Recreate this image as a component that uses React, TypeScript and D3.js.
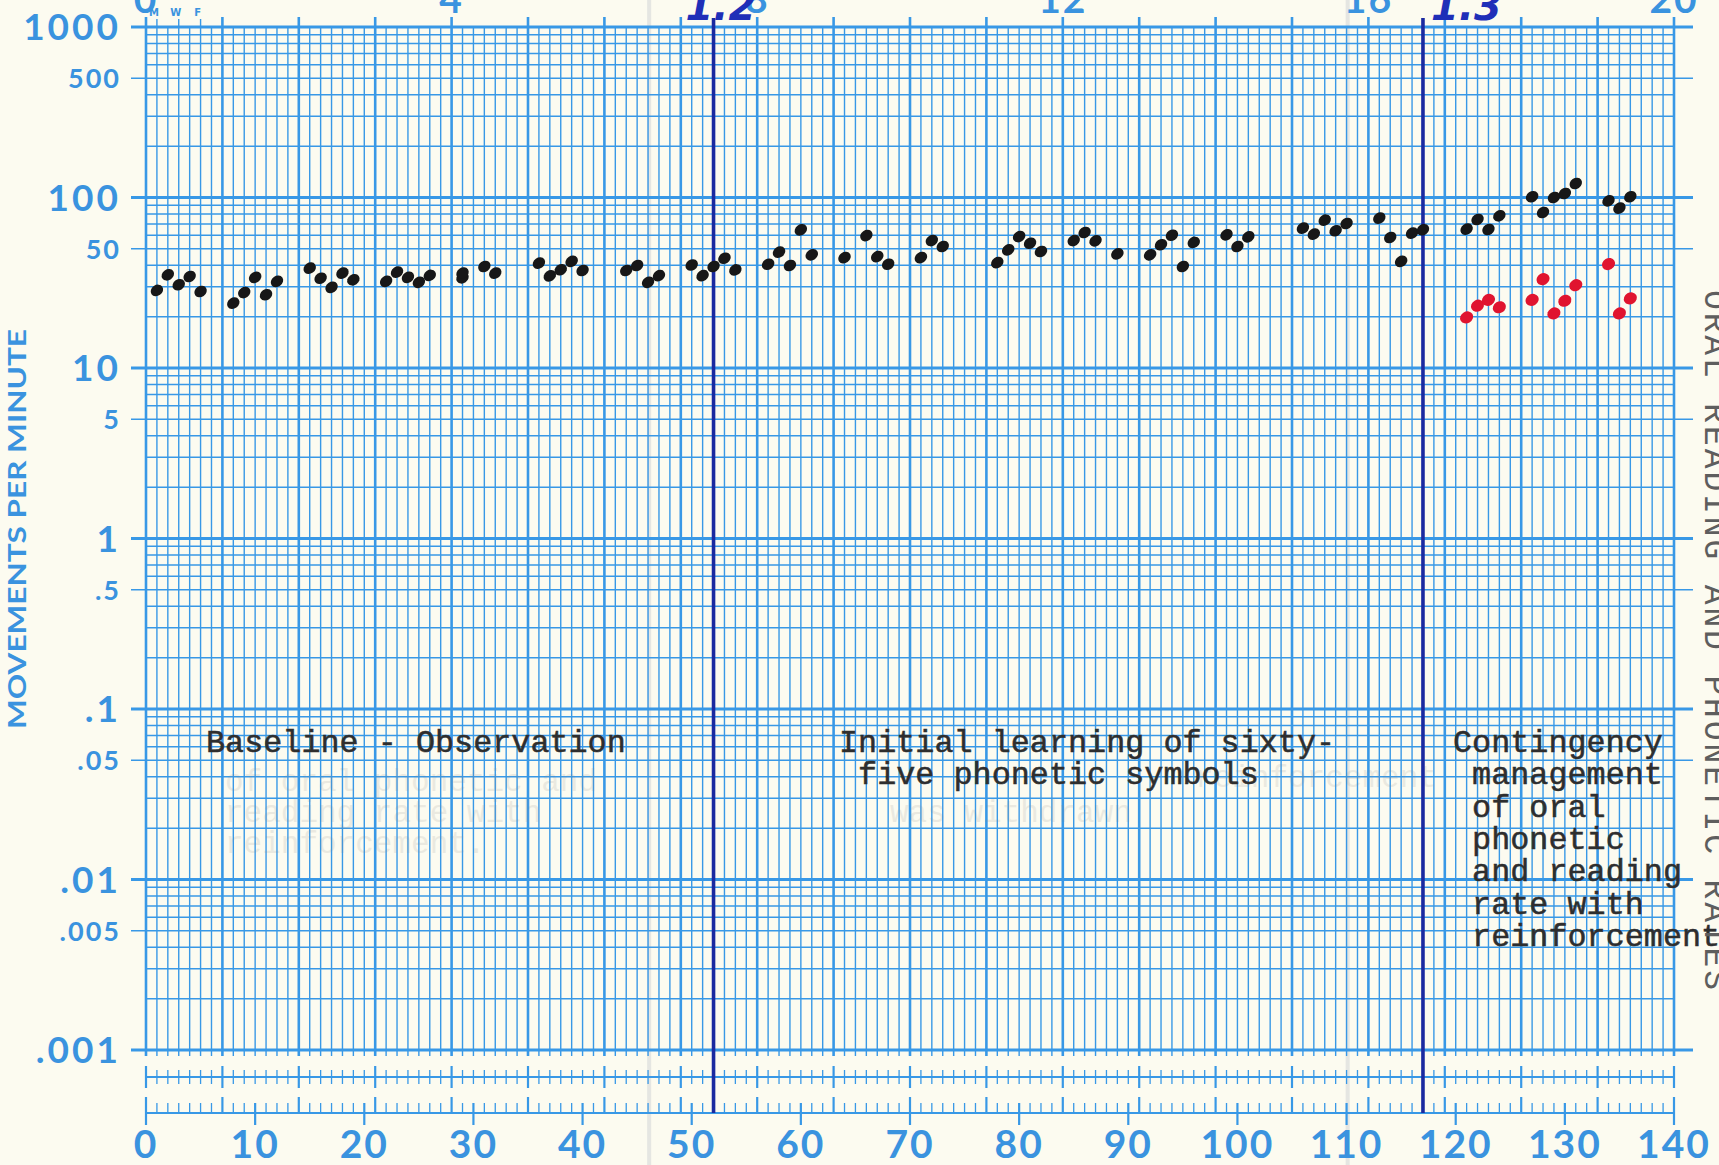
import React, { useRef, useEffect } from "react";
import * as d3 from "d3";

// black dots: oral phonetic rate (day, movements per minute)
const blackDays = [
  1, 2, 3, 4, 5, 8, 9, 10, 11, 12, 15, 16, 17, 18, 19, 22, 23, 24, 25, 26,
  29, 29, 31, 32, 36, 37, 38, 39, 40, 44, 45, 46, 47, 50, 51, 52, 53, 54,
  57, 58, 59, 60, 61, 64, 66, 67, 68, 71, 72, 73, 78, 79, 80, 81, 82,
  85, 86, 87, 89, 92, 93, 94, 95, 96, 99, 100, 101, 106, 107, 108, 109, 110,
  113, 114, 115, 116, 117, 121, 122, 123, 124, 127, 128, 129, 130, 131,
  134, 135, 136,
];
const blackRates = [
  28.5, 35.2, 30.8, 34.4, 28.1, 24.0, 27.7, 34.0, 26.9, 32.2, 38.5, 33.6, 29.7, 36.0, 32.9,
  32.2, 36.5, 34.0, 31.8, 34.9, 33.8, 36.0, 39.4, 36.0, 41.2, 34.7, 37.7, 42.2, 37.3,
  37.3, 39.9, 31.8, 34.8, 40.2, 34.8, 39.4, 44.0, 37.6, 40.6, 47.8, 39.9, 64.6, 46.1,
  44.4, 59.8, 45.0, 40.6, 44.4, 55.9, 51.6, 41.5, 49.3, 59.0, 53.9, 48.2,
  55.9, 62.3, 55.7, 46.7, 46.1, 52.8, 60.1, 39.4, 54.5, 60.4, 51.6, 58.8,
  66.1, 61.0, 73.6, 63.8, 70.4, 75.7, 58.3, 42.2, 61.8, 64.7,
  65.2, 74.3, 64.9, 78.1, 101, 81.7, 100, 105.5, 120.8, 95.6, 86.6, 101,
];

// red dots: reading rate
const redDays = [121, 122, 123, 124, 127, 128, 129, 130, 131, 134, 135, 136];
const redRates = [19.8, 23.2, 25.1, 22.7, 25.1, 33.2, 20.9, 24.8, 30.6, 40.7, 20.9, 25.6];

const leftValues = [1000, 500, 100, 50, 10, 5, 1, 0.5, 0.1, 0.05, 0.01, 0.005, 0.001];
const leftLabels = ["1000", "500", "100", "50", "10", "5", "1", ".5", ".1", ".05", ".01", ".005", ".001"];
const bottomTicks = [0, 10, 20, 30, 40, 50, 60, 70, 80, 90, 100, 110, 120, 130, 140];
const topWeeks = [0, 4, 8, 12, 16, 20];
const weekdayLetters = ["M", "W", "F"];
const weekdayDays = [1, 3, 5];

const phaseDays = [52, 117];
const phaseNames = ["1.2", "1.3"];

const baselineNote = ["Baseline - Observation"];
const learningNote = ["Initial learning of sixty-", " five phonetic symbols"];
const contingencyNote = [
  "Contingency",
  " management",
  " of oral",
  " phonetic",
  " and reading",
  " rate with",
  " reinforcement",
];
const ghostNote = ["of oral phonetic and", "reading rate with", "reinforcement."];

const W = 1719,
  H = 1165;

const App = () => {
  const svgRef = useRef<SVGSVGElement>(null);

  useEffect(() => {
    const svg = d3.select(svgRef.current);
    svg.selectAll("*").remove();

    const grid = "#3898e6";
    const ink = "#3a93df";
    const x = d3.scaleLinear().domain([0, 140]).range([146, 1674]);
    const y = d3.scaleLog().domain([0.001, 1000]).range([1050, 27]);
    const yMid = 1077,
      yBase = 1113;

    svg.append("rect").attr("width", W).attr("height", H).attr("fill", "#fcfbf0");

    // creases in the paper
    svg
      .append("g")
      .selectAll("line")
      .data([46.1, 110.1])
      .join("line")
      .attr("x1", (d) => x(d))
      .attr("x2", (d) => x(d))
      .attr("y1", 0)
      .attr("y2", H)
      .attr("stroke", "#cfd3d6")
      .attr("stroke-width", 4)
      .attr("opacity", 0.5);

    // vertical day lines
    const days = d3.range(0, 141);
    svg
      .append("g")
      .selectAll("line")
      .data(days)
      .join("line")
      .attr("x1", (d) => x(d))
      .attr("x2", (d) => x(d))
      .attr("y1", (d) => (d % 7 === 0 ? 17 : y(1000)))
      .attr("y2", 1056)
      .attr("stroke", grid)
      .attr("stroke-width", (d) => (d % 7 === 0 ? 2.6 : 1.4));

    // horizontal log lines
    const rows = [
      ...d3.range(-3, 3).flatMap((e) => d3.range(1, 10).map((m) => m * Math.pow(10, e))),
      1000,
    ];
    const lg = (v: number) => Math.log10(v);
    const isDecade = (v: number) => Math.abs(lg(v) - Math.round(lg(v))) < 1e-6;
    const isFive = (v: number) => Math.abs(lg(v / 5) - Math.round(lg(v / 5))) < 1e-6;
    svg
      .append("g")
      .selectAll("line")
      .data(rows)
      .join("line")
      .attr("x1", (d) => (isDecade(d) || isFive(d) ? 131 : x(0)))
      .attr("x2", (d) => (isDecade(d) || isFive(d) ? 1693 : x(140)))
      .attr("y1", (d) => y(d))
      .attr("y2", (d) => y(d))
      .attr("stroke", grid)
      .attr("stroke-width", (d) => (isDecade(d) ? 2.8 : 1.5));

    // lower counting scales
    const lower = svg.append("g").attr("stroke", grid);
    lower.append("line").attr("x1", x(0)).attr("x2", x(140)).attr("y1", yMid).attr("y2", yMid).attr("stroke-width", 1.8);
    lower.append("line").attr("x1", x(0)).attr("x2", x(140)).attr("y1", yBase).attr("y2", yBase).attr("stroke-width", 2);
    lower
      .selectAll("line.mid")
      .data(days)
      .join("line")
      .attr("class", "mid")
      .attr("x1", (d) => x(d))
      .attr("x2", (d) => x(d))
      .attr("y1", (d) => (d % 7 === 0 ? yMid - 11 : yMid - 7))
      .attr("y2", (d) => (d % 7 === 0 ? yMid + 11 : yMid + 7))
      .attr("stroke-width", (d) => (d % 7 === 0 ? 2.2 : 1.3));
    lower
      .selectAll("line.base")
      .data(days)
      .join("line")
      .attr("class", "base")
      .attr("x1", (d) => x(d))
      .attr("x2", (d) => x(d))
      .attr("y1", (d) => (d % 7 === 0 ? yBase - 16 : yBase - 10))
      .attr("y2", (d) => (d % 10 === 0 ? yBase + 12 : yBase))
      .attr("stroke-width", (d) => (d % 7 === 0 || d % 10 === 0 ? 2.2 : 1.3));

    // M W F ticks above the grid
    svg
      .append("g")
      .selectAll("line")
      .data(weekdayDays)
      .join("line")
      .attr("x1", (d) => x(d))
      .attr("x2", (d) => x(d))
      .attr("y1", 19)
      .attr("y2", y(1000))
      .attr("stroke", grid)
      .attr("stroke-width", 1.4);
    svg
      .append("g")
      .selectAll("text")
      .data(weekdayLetters)
      .join("text")
      .attr("x", (d, i) => x(weekdayDays[i]) - 3)
      .attr("y", 16)
      .attr("text-anchor", "middle")
      .attr("font-family", "DejaVu Sans")
      .attr("font-weight", "bold")
      .attr("font-size", 10)
      .attr("fill", ink)
      .text((d) => d);

    // left labels
    svg
      .append("g")
      .selectAll("text")
      .data(leftLabels)
      .join("text")
      .attr("x", 121)
      .attr("y", (d, i) => y(leftValues[i]))
      .attr("dy", "0.36em")
      .attr("text-anchor", "end")
      .attr("font-family", "Lato")
      .attr("font-weight", "bold")
      .attr("font-size", (d, i) => (isDecade(leftValues[i]) ? 37 : 27))
      .attr("letter-spacing", (d, i) => (isDecade(leftValues[i]) ? 3 : 2))
      .attr("fill", ink)
      .text((d) => d);

    // bottom day labels
    svg
      .append("g")
      .selectAll("text")
      .data(bottomTicks)
      .join("text")
      .attr("x", (d) => x(d))
      .attr("y", 1158)
      .attr("text-anchor", "middle")
      .attr("font-family", "Lato")
      .attr("font-weight", "bold")
      .attr("font-size", 39)
      .attr("letter-spacing", 2)
      .attr("fill", ink)
      .text((d) => d);

    // top calendar weeks, cut by the page edge
    svg
      .append("g")
      .selectAll("text")
      .data(topWeeks)
      .join("text")
      .attr("x", (d) => x(d * 7))
      .attr("y", 13)
      .attr("text-anchor", "middle")
      .attr("font-family", "Lato")
      .attr("font-weight", "bold")
      .attr("font-size", 39)
      .attr("letter-spacing", 2)
      .attr("fill", ink)
      .text((d) => d);

    svg
      .append("text")
      .attr("transform", "translate(26, 529) rotate(-90)")
      .attr("text-anchor", "middle")
      .attr("font-family", "Lato")
      .attr("font-weight", "bold")
      .attr("font-size", 25)
      .attr("textLength", 400)
      .attr("lengthAdjust", "spacingAndGlyphs")
      .attr("fill", ink)
      .text("MOVEMENTS PER MINUTE");

    // show-through typing from the back of the sheet
    const ghost = svg
      .append("g")
      .attr("font-family", "Liberation Mono")
      .attr("font-size", 31)
      .attr("fill", "#8a8a8a")
      .attr("opacity", 0.15);
    ghost
      .selectAll("text")
      .data(ghostNote)
      .join("text")
      .attr("x", 225)
      .attr("y", (d, i) => 791 + i * 31)
      .text((d) => d);
    ghost.append("text").attr("x", 890).attr("y", 822).text("was withdrawn");
    ghost.append("text").attr("x", 1195).attr("y", 787).text("reinforcement");

    // phase change lines
    svg
      .append("g")
      .selectAll("line")
      .data(phaseDays)
      .join("line")
      .attr("x1", (d) => x(d))
      .attr("x2", (d) => x(d))
      .attr("y1", 18)
      .attr("y2", yBase)
      .attr("stroke", "#1a2aa0")
      .attr("stroke-width", 3.6);
    svg
      .append("g")
      .selectAll("text")
      .data(phaseNames)
      .join("text")
      .attr("x", (d, i) => x(phaseDays[i]) + (i === 0 ? -28 : 8))
      .attr("y", 20)
      .attr("font-family", "DejaVu Sans")
      .attr("font-style", "italic")
      .attr("font-weight", "bold")
      .attr("font-size", 40)
      .attr("fill", "#1f2fb8")
      .text((d) => d);

    // typed condition notes
    const typed = svg
      .append("g")
      .attr("font-family", "Liberation Mono")
      .attr("font-size", 31.8)
      .attr("fill", "#2e2e2e")
      .attr("stroke", "#2e2e2e")
      .attr("stroke-width", 0.5)
      .style("white-space", "pre");
    const note = (lines: string[], x0: number, y0: number) =>
      typed
        .append("g")
        .selectAll("text")
        .data(lines)
        .join("text")
        .attr("x", x0)
        .attr("y", (d, i) => y0 + i * 32.3)
        .attr("xml:space", "preserve")
        .text((d) => d);
    note(baselineNote, 206, 752);
    note(learningNote, 839, 752);
    note(contingencyNote, 1453, 752);

    // rotated caption running off the right edge
    svg
      .append("text")
      .attr("transform", "translate(1705, 290) rotate(90)")
      .attr("font-family", "Liberation Mono")
      .attr("font-size", 33)
      .attr("fill", "#5e5e5e")
      .attr("textLength", 700)
      .attr("lengthAdjust", "spacing")
      .text("ORAL READING AND PHONETIC RATES");

    // data dots
    svg
      .append("g")
      .selectAll("ellipse")
      .data(blackDays)
      .join("ellipse")
      .attr("transform", (d, i) => `translate(${x(d)},${y(blackRates[i])}) rotate(-35)`)
      .attr("rx", 6.6)
      .attr("ry", 5.4)
      .attr("fill", "#171717");
    svg
      .append("g")
      .selectAll("ellipse")
      .data(redDays)
      .join("ellipse")
      .attr("transform", (d, i) => `translate(${x(d)},${y(redRates[i])}) rotate(-30)`)
      .attr("rx", 6.8)
      .attr("ry", 5.8)
      .attr("fill", "#e0142f");
  }, []);

  return (
    <svg
      ref={svgRef}
      width={W}
      height={H}
      style={{ position: "absolute", left: 0, top: 0, display: "block" }}
    ></svg>
  );
};

export default App;
